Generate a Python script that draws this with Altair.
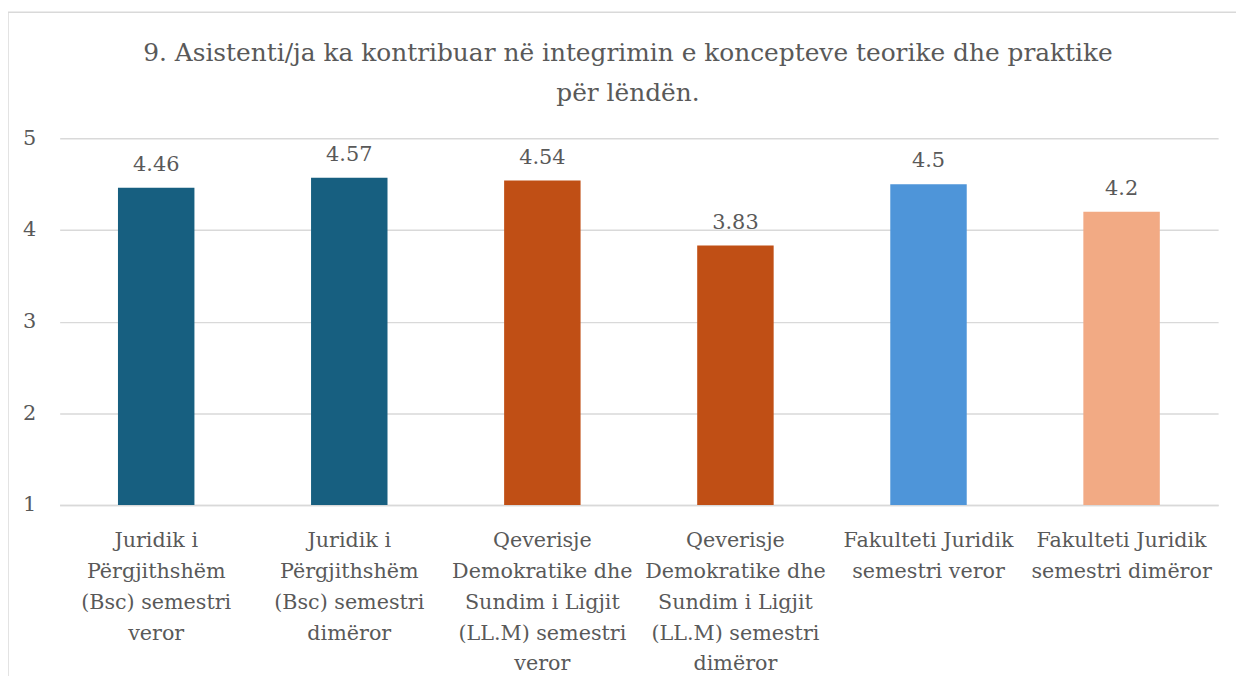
import altair as alt
import pandas as pd

categories = [
    "Juridik i|Përgjithshëm|(Bsc) semestri|veror",
    "Juridik i|Përgjithshëm|(Bsc) semestri|dimëror",
    "Qeverisje|Demokratike dhe|Sundim i Ligjit|(LL.M)  semestri|veror",
    "Qeverisje|Demokratike dhe|Sundim i Ligjit|(LL.M) semestri|dimëror",
    "Fakulteti Juridik|semestri veror",
    "Fakulteti Juridik|semestri dimëror",
]
values = [4.46, 4.57, 4.54, 3.83, 4.5, 4.2]
colors = ["#175F80", "#175F80", "#C04F15", "#C04F15", "#4E95D9", "#F2AA84"]
y_ticks = [1, 2, 3, 4, 5]
title_text = "9. Asistenti/ja ka kontribuar në integrimin e koncepteve teorike dhe praktike\npër lëndën."

df = pd.DataFrame({"cat": categories, "val": values})
df_title = pd.DataFrame({"t": [title_text]})

FONT = "DejaVu Serif"
GRAY = "#595959"
GRID = "#D9D9D9"

x_enc = alt.X(
    "cat:N",
    sort=categories,
    title=None,
    scale=alt.Scale(paddingInner=0.604, paddingOuter=0.302),
    axis=alt.Axis(
        labelAngle=0,
        labelExpr="split(datum.label, '|')",
        labelFontSize=20.8,
        labelLineHeight=31,
        labelPadding=42,
        labelLimit=0,
        labelColor=GRAY,
        labelFont=FONT,
        labelBaseline="alphabetic",
        ticks=False,
        domainColor=GRID,
        domainWidth=1.5,
    ),
)

y_enc = alt.Y(
    "val:Q",
    title=None,
    scale=alt.Scale(domain=[1, 5], zero=False, nice=False),
    axis=alt.Axis(
        values=y_ticks,
        format="d",
        gridColor=GRID,
        gridWidth=1.5,
        domain=False,
        ticks=False,
        labelFontSize=21,
        labelPadding=24,
        labelColor=GRAY,
        labelFont=FONT,
    ),
)

bars = alt.Chart(df).mark_bar().encode(
    x=x_enc,
    y=y_enc,
    y2=alt.datum(1),
    color=alt.Color("cat:N", scale=alt.Scale(domain=categories, range=colors), legend=None),
)

text = alt.Chart(df).mark_text(
    baseline="alphabetic", dy=-17, fontSize=21, font=FONT, color=GRAY
).encode(
    x=alt.X("cat:N", sort=categories),
    y=alt.Y("val:Q"),
    text=alt.Text("val:Q", format="~g"),
)

title = alt.Chart(df_title).mark_text(
    font=FONT, fontSize=25, color=GRAY, lineBreak="\n", lineHeight=40,
    align="center", baseline="alphabetic",
).encode(
    x=alt.value(572), y=alt.value(-78), text="t:N"
)

border_top = alt.Chart(df_title).mark_rule(color=GRID, strokeWidth=1.5).encode(
    x=alt.value(-52), x2=alt.value(1200), y=alt.value(-127)
)
border_left = alt.Chart(df_title).mark_rule(color=GRID, strokeWidth=1.5).encode(
    x=alt.value(-52), y=alt.value(-127), y2=alt.value(560)
)

chart = (
    alt.layer(border_top, border_left, bars, text, title)
    .properties(
        width=1166,
        height=369,
        autosize=alt.AutoSizeParams(type="none"),
        padding={"left": 52, "top": 129, "right": 18, "bottom": 170},
    )
    .configure_view(stroke=None)
)

chart.save("out.html", embed_options={"renderer": "svg", "actions": False})
